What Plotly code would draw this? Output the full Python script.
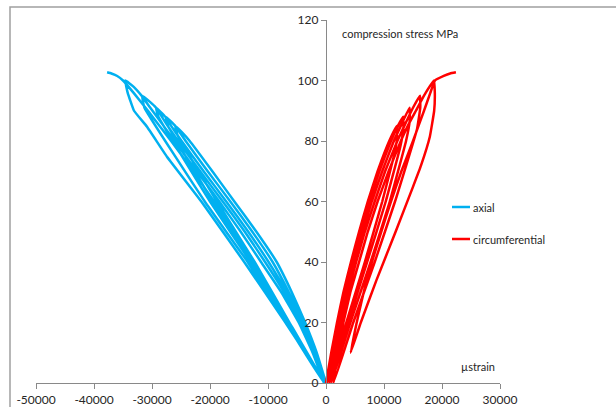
import plotly.graph_objects as go

# ---- measured stress-strain record (strain in microstrain, stress in MPa) ----
# Axial strain (compression shown negative), one continuous loading/unloading path
axial_strain = [
    # cycle to 85 MPa
    0, -1600, -3600, -5900, -8500, -12000, -15800, -19600, -23500, -24900, -26000,
    -25600, -18800, -12300, -6300, -150,
    # cycle to 88 MPa
    -1800, -3900, -6400, -9200, -12700, -16500, -20400, -24200, -26000, -27600,
    -27250, -19500, -12700, -6500, -250,
    # cycle to 91 MPa
    -2000, -4200, -6800, -9900, -13400, -17200, -21100, -24900, -26700, -27700, -29300,
    -28900, -20000, -13000, -6700, -320,
    # cycle to 95 MPa
    -2100, -4400, -7200, -10500, -14000, -17800, -21700, -25500, -27300, -29300, -30400, -31700,
    -31300, -20900, -13500, -6900, -380,
    # cycle to 100 MPa, unloaded to 10 MPa
    -2300, -4700, -7700, -11200, -14700, -18400, -22300, -26100, -28000, -30300, -31800, -33200, -34600,
    -34200, -33100, -30860, -27420, -21500, -14100, -7000, -3600,
    # final reloading to failure
    -6400, -9300, -12500, -15800, -19300, -22900, -26700, -30700, -33200, -35000, -36000, -37000, -37740,
]
axial_stress = [
    0, 10, 20, 30, 40, 50, 60, 70, 80, 83, 85,
    82, 60, 40, 20, 0,
    10, 20, 30, 40, 50, 60, 70, 80, 85, 88,
    85, 60, 40, 20, 0,
    10, 20, 30, 40, 50, 60, 70, 80, 85, 88, 91,
    88, 60, 40, 20, 0,
    10, 20, 30, 40, 50, 60, 70, 80, 85, 91, 93, 95,
    91, 60, 40, 20, 0,
    10, 20, 30, 40, 50, 60, 70, 80, 85, 91, 95, 98, 100,
    96, 90, 84.7, 74.8, 60, 40, 20, 10,
    20, 30, 40, 50, 60, 70, 80, 90, 96, 100, 101.5, 102.3, 102.7,
]

# Circumferential strain, same loading history
circ_strain = [
    0, 900, 1900, 3000, 4300, 5700, 7200, 8900, 10900, 12200,
    12250, 11700, 9700, 6700, 3500, 300,
    1100, 2100, 3200, 4500, 5900, 7500, 9200, 11200, 12400, 13300,
    13350, 12800, 10300, 7100, 3800, 600,
    1300, 2300, 3500, 4800, 6300, 7900, 9700, 11700, 12900, 14400,
    14450, 13800, 11000, 7700, 4200, 900,
    1600, 2600, 3800, 5200, 6700, 8400, 10200, 12300, 13500, 15000, 16200,
    16250, 15700, 11900, 8400, 4700, 1300,
    2000, 3000, 4200, 5700, 7200, 8900, 10800, 12900, 14100, 15500, 16900, 18600,
    18760, 18650, 17900, 16400, 15030, 12000, 8700, 6000, 4250,
    5300, 7000, 9200, 11200, 13000, 15000, 16900, 18000, 18800, 20300, 21400, 22400,
]
circ_stress = [
    0, 10, 20, 30, 40, 50, 60, 70, 80, 85,
    81, 75, 60, 40, 20, 0,
    10, 20, 30, 40, 50, 60, 70, 80, 85, 88,
    84, 78, 60, 40, 20, 0,
    10, 20, 30, 40, 50, 60, 70, 80, 85, 91,
    87, 80, 60, 40, 20, 0,
    10, 20, 30, 40, 50, 60, 70, 80, 85, 91, 95,
    91, 84, 60, 40, 20, 0,
    10, 20, 30, 40, 50, 60, 70, 80, 85, 90, 95, 100,
    96, 90, 81.4, 72, 65, 50, 34, 20, 10,
    20, 34, 48, 60, 70, 80, 90, 96, 100, 101.5, 102.3, 102.7,
]

x_ticks = [-50000, -40000, -30000, -20000, -10000, 0, 10000, 20000, 30000]
x_tick_labels = ["-50000", "-40000", "-30000", "-20000", "-10000", "0", "10000", "20000", "30000"]
y_ticks = [0, 20, 40, 60, 80, 100, 120]

BLUE = "#00B0F0"
RED = "#FF0000"
AXIS = "#898989"
TEXT = "#262626"
FONT = "Lato"

W, H = 616, 407
ML, MR, MT, MB = 36, 116, 20, 24
PW, PH = W - ML - MR, H - MT - MB


def px(x):
    return (x - ML) / PW


def py(y):
    return (H - MB - y) / PH


fig = go.Figure()
fig.add_trace(go.Scatter(x=axial_strain, y=axial_stress, mode="lines", name="axial",
                         line=dict(color=BLUE, width=2.5, shape="spline", smoothing=0.3),
                         showlegend=False))
fig.add_trace(go.Scatter(x=circ_strain, y=circ_stress, mode="lines", name="circumferential",
                         line=dict(color=RED, width=2.5, shape="spline", smoothing=0.3),
                         showlegend=False))

shapes = [
    # outer chart frame
    dict(type="rect", xref="paper", yref="paper",
         x0=px(10), x1=px(640), y0=py(430), y1=py(7),
         line=dict(color="#A0A0A0", width=1.5), fillcolor="rgba(0,0,0,0)", layer="below"),
    # legend keys
    dict(type="line", xref="paper", yref="paper", x0=px(452), x1=px(470), y0=py(207), y1=py(207),
         line=dict(color=BLUE, width=2.5)),
    dict(type="line", xref="paper", yref="paper", x0=px(452), x1=px(470), y0=py(239), y1=py(239),
         line=dict(color=RED, width=2.5)),
]

annotations = [
    dict(text="compression stress MPa", xref="paper", yref="paper", x=px(340), y=py(33),
         xanchor="left", yanchor="middle", showarrow=False, font=dict(size=11, color=TEXT)),
    dict(text="µstrain", xref="paper", yref="paper", x=px(459), y=py(366),
         xanchor="left", yanchor="middle", showarrow=False, font=dict(size=11, color=TEXT)),
    dict(text="axial", xref="paper", yref="paper", x=px(471), y=py(207),
         xanchor="left", yanchor="middle", showarrow=False, font=dict(size=11, color=TEXT)),
    dict(text="circumferential", xref="paper", yref="paper", x=px(471), y=py(239),
         xanchor="left", yanchor="middle", showarrow=False, font=dict(size=11, color=TEXT)),
]

fig.update_layout(
    width=W, height=H,
    margin=dict(l=ML, r=MR, t=MT, b=MB, pad=0, autoexpand=False),
    paper_bgcolor="white", plot_bgcolor="white",
    font=dict(family=FONT, size=12, color=TEXT),
    shapes=shapes, annotations=annotations,
    xaxis=dict(range=[-50000, 30000], tickvals=x_ticks, ticktext=x_tick_labels, automargin=False,
               showgrid=False, zeroline=False, showline=True, linecolor=AXIS, linewidth=1.3,
               ticks="outside", ticklen=5, tickcolor=AXIS, tickwidth=1.3,
               tickfont=dict(family=FONT, size=12, color=TEXT)),
    yaxis=dict(range=[0, 120], tickvals=y_ticks, anchor="free", position=px(326), automargin=False,
               showgrid=False, zeroline=False, showline=True, linecolor=AXIS, linewidth=1.3,
               ticks="outside", ticklen=5, tickcolor=AXIS, tickwidth=1.3,
               tickfont=dict(family=FONT, size=12, color=TEXT)),
)

fig.write_html("out.html")
